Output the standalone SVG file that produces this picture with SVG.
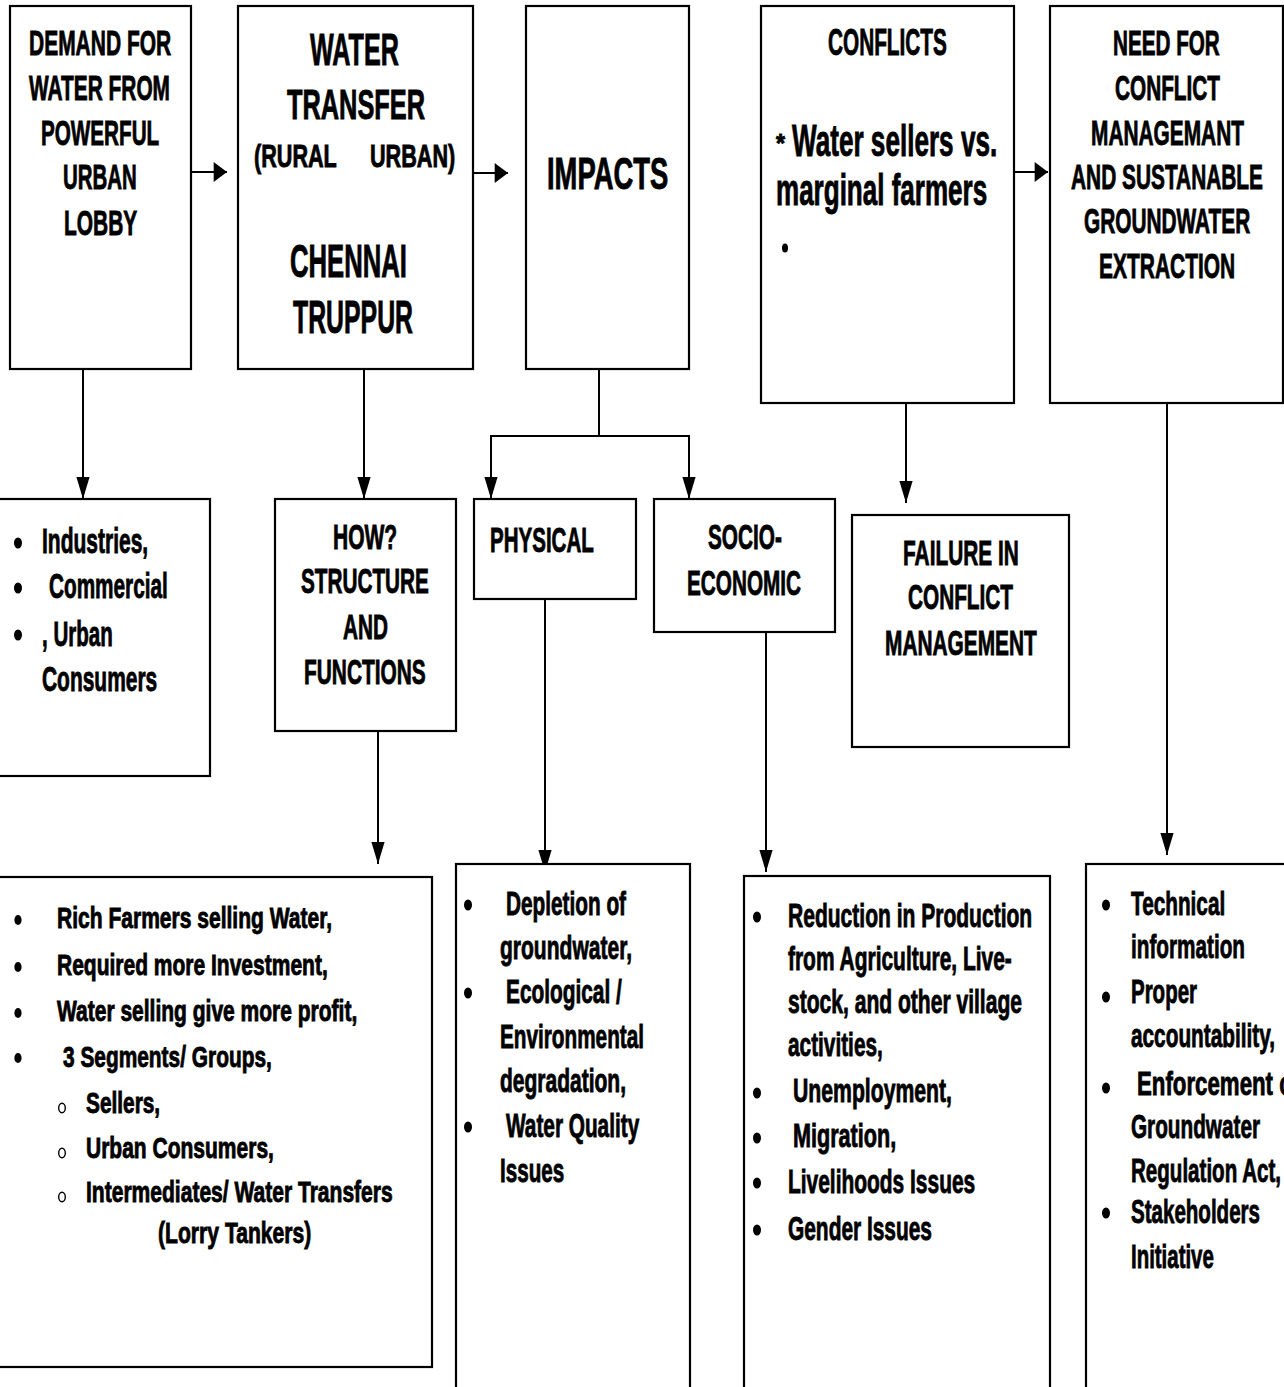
<svg xmlns="http://www.w3.org/2000/svg" width="1284" height="1387" viewBox="0 0 1284 1387">
  <style>
    .box { fill: #ffffff; stroke: #000000; stroke-width: 2.2; }
    .t { font-family: "Liberation Sans", Arial, sans-serif; font-weight: bold; fill: #000000; stroke: #000000; stroke-width: 0.9; }
    .h36 { font-size: 36px; }
    .b34 { font-size: 34px; }
    .b30 { font-size: 30px; }
    .link { fill: none; stroke: #000000; stroke-width: 2; }
    .dot { fill: #000000; }
    .ring { fill: none; stroke: #000000; stroke-width: 1.4; }
  </style>
  <defs>
    <marker id="arrowV" markerUnits="userSpaceOnUse" markerWidth="22" markerHeight="14" refX="20" refY="6" orient="auto" viewBox="0 0 20 12">
      <path d="M0,0 L20,6 L0,12 Z" fill="#000000"/>
    </marker>
    <marker id="arrowH" markerUnits="userSpaceOnUse" markerWidth="14" markerHeight="20" refX="12" refY="9" orient="auto" viewBox="0 0 12 18">
      <path d="M0,0 L12,9 L0,18 Z" fill="#000000"/>
    </marker>
  </defs>

  <rect x="0" y="0" width="1284" height="1387" fill="#ffffff"/>

  <!-- connectors -->
  <g id="connectors">
    <line class="link" x1="191" y1="172" x2="227" y2="172" marker-end="url(#arrowH)"/>
    <line class="link" x1="473" y1="173" x2="508" y2="173" marker-end="url(#arrowH)"/>
    <line class="link" x1="1014" y1="172" x2="1048" y2="172" marker-end="url(#arrowH)"/>
    <line class="link" x1="83" y1="369" x2="83" y2="499" marker-end="url(#arrowV)"/>
    <line class="link" x1="364" y1="369" x2="364" y2="499" marker-end="url(#arrowV)"/>
    <line class="link" x1="599" y1="369" x2="599" y2="436"/>
    <polyline class="link" points="491,436 689,436 689,499" marker-end="url(#arrowV)"/>
    <line class="link" x1="491" y1="435" x2="491" y2="499" marker-end="url(#arrowV)"/>
    <line class="link" x1="906" y1="403" x2="906" y2="503" marker-end="url(#arrowV)"/>
    <line class="link" x1="378" y1="731" x2="378" y2="864" marker-end="url(#arrowV)"/>
    <line class="link" x1="545" y1="599" x2="545" y2="872" marker-end="url(#arrowV)"/>
    <line class="link" x1="766" y1="632" x2="766" y2="872" marker-end="url(#arrowV)"/>
    <line class="link" x1="1167" y1="403" x2="1167" y2="855" marker-end="url(#arrowV)"/>
  </g>

  <!-- demand -->
  <g id="demand">
    <rect class="box" x="10" y="6" width="181" height="363"/>
    <text class="t h36" transform="translate(29 55) scale(0.6 1)" textLength="237" lengthAdjust="spacingAndGlyphs">DEMAND FOR</text>
    <text class="t h36" transform="translate(29 100) scale(0.6 1)" textLength="235" lengthAdjust="spacingAndGlyphs">WATER FROM</text>
    <text class="t h36" transform="translate(41 145) scale(0.6 1)" textLength="197" lengthAdjust="spacingAndGlyphs">POWERFUL</text>
    <text class="t h36" transform="translate(63 189) scale(0.6 1)" textLength="123" lengthAdjust="spacingAndGlyphs">URBAN</text>
    <text class="t h36" transform="translate(64 235) scale(0.6 1)" textLength="122" lengthAdjust="spacingAndGlyphs">LOBBY</text>
  </g>

  <!-- water transfer -->
  <g id="transfer">
    <rect class="box" x="238" y="6" width="235" height="363"/>
    <text class="t" font-size="44" transform="translate(310 65) scale(0.6 1)" textLength="148" lengthAdjust="spacingAndGlyphs">WATER</text>
    <text class="t" font-size="42" transform="translate(287 119) scale(0.6 1)" textLength="230" lengthAdjust="spacingAndGlyphs">TRANSFER</text>
    <text class="t" font-size="32" transform="translate(254 167) scale(0.6 1)" textLength="138" lengthAdjust="spacingAndGlyphs">(RURAL</text>
    <text class="t" font-size="32" transform="translate(370 167) scale(0.6 1)" textLength="142" lengthAdjust="spacingAndGlyphs">URBAN)</text>
    <text class="t" font-size="46" transform="translate(290 277) scale(0.6 1)" textLength="195" lengthAdjust="spacingAndGlyphs">CHENNAI</text>
    <text class="t" font-size="46" transform="translate(293 333) scale(0.6 1)" textLength="200" lengthAdjust="spacingAndGlyphs">TRUPPUR</text>
  </g>

  <!-- impacts -->
  <g id="impacts">
    <rect class="box" x="526" y="6" width="163" height="363"/>
    <text class="t" font-size="45" transform="translate(547 189) scale(0.6 1)" textLength="202" lengthAdjust="spacingAndGlyphs">IMPACTS</text>
  </g>

  <!-- conflicts -->
  <g id="conflicts">
    <rect class="box" x="761" y="6" width="253" height="397"/>
    <text class="t" font-size="37" transform="translate(828 55) scale(0.6 1)" textLength="198" lengthAdjust="spacingAndGlyphs">CONFLICTS</text>
    <text class="t" font-size="26" transform="translate(776 152) scale(0.6 1)" textLength="15" lengthAdjust="spacingAndGlyphs">*</text>
    <text class="t" font-size="44" transform="translate(792 156) scale(0.6 1)" textLength="342" lengthAdjust="spacingAndGlyphs">Water sellers vs.</text>
    <text class="t" font-size="44" transform="translate(776 205) scale(0.6 1)" textLength="352" lengthAdjust="spacingAndGlyphs">marginal farmers</text>
    <ellipse class="dot" cx="785" cy="248" rx="3" ry="4.5"/>
  </g>

  <!-- need for conflict management -->
  <g id="need">
    <rect class="box" x="1050" y="6" width="233" height="397"/>
    <text class="t h36" transform="translate(1113 55) scale(0.6 1)" textLength="178" lengthAdjust="spacingAndGlyphs">NEED FOR</text>
    <text class="t h36" transform="translate(1115 100) scale(0.6 1)" textLength="175" lengthAdjust="spacingAndGlyphs">CONFLICT</text>
    <text class="t h36" transform="translate(1091 145) scale(0.6 1)" textLength="255" lengthAdjust="spacingAndGlyphs">MANAGEMANT</text>
    <text class="t h36" transform="translate(1071 189) scale(0.6 1)" textLength="320" lengthAdjust="spacingAndGlyphs">AND SUSTANABLE</text>
    <text class="t h36" transform="translate(1084 233) scale(0.6 1)" textLength="277" lengthAdjust="spacingAndGlyphs">GROUNDWATER</text>
    <text class="t h36" transform="translate(1099 278) scale(0.6 1)" textLength="227" lengthAdjust="spacingAndGlyphs">EXTRACTION</text>
  </g>

  <!-- consumers -->
  <g id="consumers">
    <rect class="box" x="-4" y="499" width="214" height="277"/>
    <ellipse class="dot" cx="18" cy="543" rx="4" ry="5.5"/>
    <ellipse class="dot" cx="18" cy="588" rx="4" ry="5.5"/>
    <ellipse class="dot" cx="18" cy="635" rx="4" ry="5.5"/>
    <text class="t h36" transform="translate(42 553) scale(0.6 1)" textLength="177" lengthAdjust="spacingAndGlyphs">Industries,</text>
    <text class="t h36" transform="translate(49 598) scale(0.6 1)" textLength="198" lengthAdjust="spacingAndGlyphs">Commercial</text>
    <text class="t h36" transform="translate(42 646) scale(0.6 1)" textLength="118" lengthAdjust="spacingAndGlyphs">, Urban</text>
    <text class="t h36" transform="translate(42 691) scale(0.6 1)" textLength="192" lengthAdjust="spacingAndGlyphs">Consumers</text>
  </g>

  <!-- how -->
  <g id="how">
    <rect class="box" x="275" y="499" width="181" height="232"/>
    <text class="t h36" transform="translate(333 549) scale(0.6 1)" textLength="107" lengthAdjust="spacingAndGlyphs">HOW?</text>
    <text class="t h36" transform="translate(301 593) scale(0.6 1)" textLength="213" lengthAdjust="spacingAndGlyphs">STRUCTURE</text>
    <text class="t h36" transform="translate(343 639) scale(0.6 1)" textLength="75" lengthAdjust="spacingAndGlyphs">AND</text>
    <text class="t h36" transform="translate(304 684) scale(0.6 1)" textLength="203" lengthAdjust="spacingAndGlyphs">FUNCTIONS</text>
  </g>

  <!-- physical -->
  <g id="physical">
    <rect class="box" x="474" y="499" width="162" height="100"/>
    <text class="t h36" transform="translate(490 552) scale(0.6 1)" textLength="173" lengthAdjust="spacingAndGlyphs">PHYSICAL</text>
  </g>

  <!-- socio-economic -->
  <g id="socio">
    <rect class="box" x="654" y="499" width="181" height="133"/>
    <text class="t h36" transform="translate(708 549) scale(0.6 1)" textLength="123" lengthAdjust="spacingAndGlyphs">SOCIO-</text>
    <text class="t h36" transform="translate(687 595) scale(0.6 1)" textLength="190" lengthAdjust="spacingAndGlyphs">ECONOMIC</text>
  </g>

  <!-- failure -->
  <g id="failure">
    <rect class="box" x="852" y="515" width="217" height="232"/>
    <text class="t h36" transform="translate(903 565) scale(0.6 1)" textLength="193" lengthAdjust="spacingAndGlyphs">FAILURE IN</text>
    <text class="t h36" transform="translate(908 609) scale(0.6 1)" textLength="175" lengthAdjust="spacingAndGlyphs">CONFLICT</text>
    <text class="t h36" transform="translate(885 655) scale(0.6 1)" textLength="253" lengthAdjust="spacingAndGlyphs">MANAGEMENT</text>
  </g>

  <!-- structure details -->
  <g id="structure">
    <rect class="box" x="-4" y="877" width="436" height="490"/>
    <ellipse class="dot" cx="18" cy="920" rx="3.6" ry="5"/>
    <ellipse class="dot" cx="18" cy="967" rx="3.6" ry="5"/>
    <ellipse class="dot" cx="18" cy="1013" rx="3.6" ry="5"/>
    <ellipse class="dot" cx="18" cy="1058" rx="3.6" ry="5"/>
    <text class="t b30" transform="translate(57 928) scale(0.72 1)" textLength="382" lengthAdjust="spacingAndGlyphs">Rich Farmers selling Water,</text>
    <text class="t b30" transform="translate(57 975) scale(0.72 1)" textLength="376" lengthAdjust="spacingAndGlyphs">Required more Investment,</text>
    <text class="t b30" transform="translate(57 1021) scale(0.72 1)" textLength="417" lengthAdjust="spacingAndGlyphs">Water selling give more profit,</text>
    <text class="t b30" transform="translate(63 1067) scale(0.72 1)" textLength="290" lengthAdjust="spacingAndGlyphs">3 Segments/ Groups,</text>
    <ellipse class="ring" cx="62" cy="1108" rx="3.3" ry="4.8"/>
    <ellipse class="ring" cx="62" cy="1153" rx="3.3" ry="4.8"/>
    <ellipse class="ring" cx="62" cy="1197" rx="3.3" ry="4.8"/>
    <text class="t b30" transform="translate(86 1113) scale(0.72 1)" textLength="103" lengthAdjust="spacingAndGlyphs">Sellers,</text>
    <text class="t b30" transform="translate(86 1158) scale(0.72 1)" textLength="261" lengthAdjust="spacingAndGlyphs">Urban Consumers,</text>
    <text class="t b30" transform="translate(86 1202) scale(0.72 1)" textLength="426" lengthAdjust="spacingAndGlyphs">Intermediates/ Water Transfers</text>
    <text class="t b30" transform="translate(158 1243) scale(0.72 1)" textLength="213" lengthAdjust="spacingAndGlyphs">(Lorry Tankers)</text>
  </g>

  <!-- physical impacts -->
  <g id="physical-list">
    <rect class="box" x="456" y="864" width="234" height="540"/>
    <ellipse class="dot" cx="468" cy="905" rx="4" ry="5.5"/>
    <ellipse class="dot" cx="468" cy="993" rx="4" ry="5.5"/>
    <ellipse class="dot" cx="468" cy="1127" rx="4" ry="5.5"/>
    <text class="t b34" transform="translate(506 915) scale(0.6 1)" textLength="200" lengthAdjust="spacingAndGlyphs">Depletion of</text>
    <text class="t b34" transform="translate(500 959) scale(0.6 1)" textLength="220" lengthAdjust="spacingAndGlyphs">groundwater,</text>
    <text class="t b34" transform="translate(506 1003) scale(0.6 1)" textLength="193" lengthAdjust="spacingAndGlyphs">Ecological /</text>
    <text class="t b34" transform="translate(500 1048) scale(0.6 1)" textLength="240" lengthAdjust="spacingAndGlyphs">Environmental</text>
    <text class="t b34" transform="translate(500 1092) scale(0.6 1)" textLength="210" lengthAdjust="spacingAndGlyphs">degradation,</text>
    <text class="t b34" transform="translate(506 1137) scale(0.6 1)" textLength="222" lengthAdjust="spacingAndGlyphs">Water Quality</text>
    <text class="t b34" transform="translate(500 1182) scale(0.6 1)" textLength="107" lengthAdjust="spacingAndGlyphs">Issues</text>
  </g>

  <!-- socio-economic impacts -->
  <g id="socio-list">
    <rect class="box" x="744" y="876" width="306" height="530"/>
    <ellipse class="dot" cx="757" cy="917" rx="4" ry="5.5"/>
    <ellipse class="dot" cx="757" cy="1093" rx="4" ry="5.5"/>
    <ellipse class="dot" cx="757" cy="1138" rx="4" ry="5.5"/>
    <ellipse class="dot" cx="757" cy="1183" rx="4" ry="5.5"/>
    <ellipse class="dot" cx="757" cy="1230" rx="4" ry="5.5"/>
    <text class="t b34" transform="translate(788 927) scale(0.6 1)" textLength="407" lengthAdjust="spacingAndGlyphs">Reduction in Production</text>
    <text class="t b34" transform="translate(788 970) scale(0.6 1)" textLength="373" lengthAdjust="spacingAndGlyphs">from Agriculture, Live-</text>
    <text class="t b34" transform="translate(788 1013) scale(0.6 1)" textLength="390" lengthAdjust="spacingAndGlyphs">stock, and other village</text>
    <text class="t b34" transform="translate(788 1056) scale(0.6 1)" textLength="158" lengthAdjust="spacingAndGlyphs">activities,</text>
    <text class="t b34" transform="translate(793 1102) scale(0.6 1)" textLength="265" lengthAdjust="spacingAndGlyphs">Unemployment,</text>
    <text class="t b34" transform="translate(793 1147) scale(0.6 1)" textLength="172" lengthAdjust="spacingAndGlyphs">Migration,</text>
    <text class="t b34" transform="translate(788 1193) scale(0.6 1)" textLength="312" lengthAdjust="spacingAndGlyphs">Livelihoods Issues</text>
    <text class="t b34" transform="translate(788 1240) scale(0.6 1)" textLength="240" lengthAdjust="spacingAndGlyphs">Gender Issues</text>
  </g>

  <!-- management measures -->
  <g id="measures">
    <rect class="box" x="1086" y="864" width="240" height="540"/>
    <ellipse class="dot" cx="1106" cy="905" rx="4" ry="5.5"/>
    <ellipse class="dot" cx="1106" cy="997" rx="4" ry="5.5"/>
    <ellipse class="dot" cx="1106" cy="1088" rx="4" ry="5.5"/>
    <ellipse class="dot" cx="1106" cy="1213" rx="4" ry="5.5"/>
    <text class="t b34" transform="translate(1131 915) scale(0.6 1)" textLength="157" lengthAdjust="spacingAndGlyphs">Technical</text>
    <text class="t b34" transform="translate(1131 958) scale(0.6 1)" textLength="190" lengthAdjust="spacingAndGlyphs">information</text>
    <text class="t b34" transform="translate(1131 1003) scale(0.6 1)" textLength="110" lengthAdjust="spacingAndGlyphs">Proper</text>
    <text class="t b34" transform="translate(1131 1047) scale(0.6 1)" textLength="240" lengthAdjust="spacingAndGlyphs">accountability,</text>
    <text class="t b34" transform="translate(1137 1095) scale(0.6 1)" textLength="272" lengthAdjust="spacingAndGlyphs">Enforcement of</text>
    <text class="t b34" transform="translate(1131 1138) scale(0.6 1)" textLength="215" lengthAdjust="spacingAndGlyphs">Groundwater</text>
    <text class="t b34" transform="translate(1131 1182) scale(0.6 1)" textLength="250" lengthAdjust="spacingAndGlyphs">Regulation Act,</text>
    <text class="t b34" transform="translate(1131 1223) scale(0.6 1)" textLength="215" lengthAdjust="spacingAndGlyphs">Stakeholders</text>
    <text class="t b34" transform="translate(1131 1268) scale(0.6 1)" textLength="138" lengthAdjust="spacingAndGlyphs">Initiative</text>
  </g>
</svg>
